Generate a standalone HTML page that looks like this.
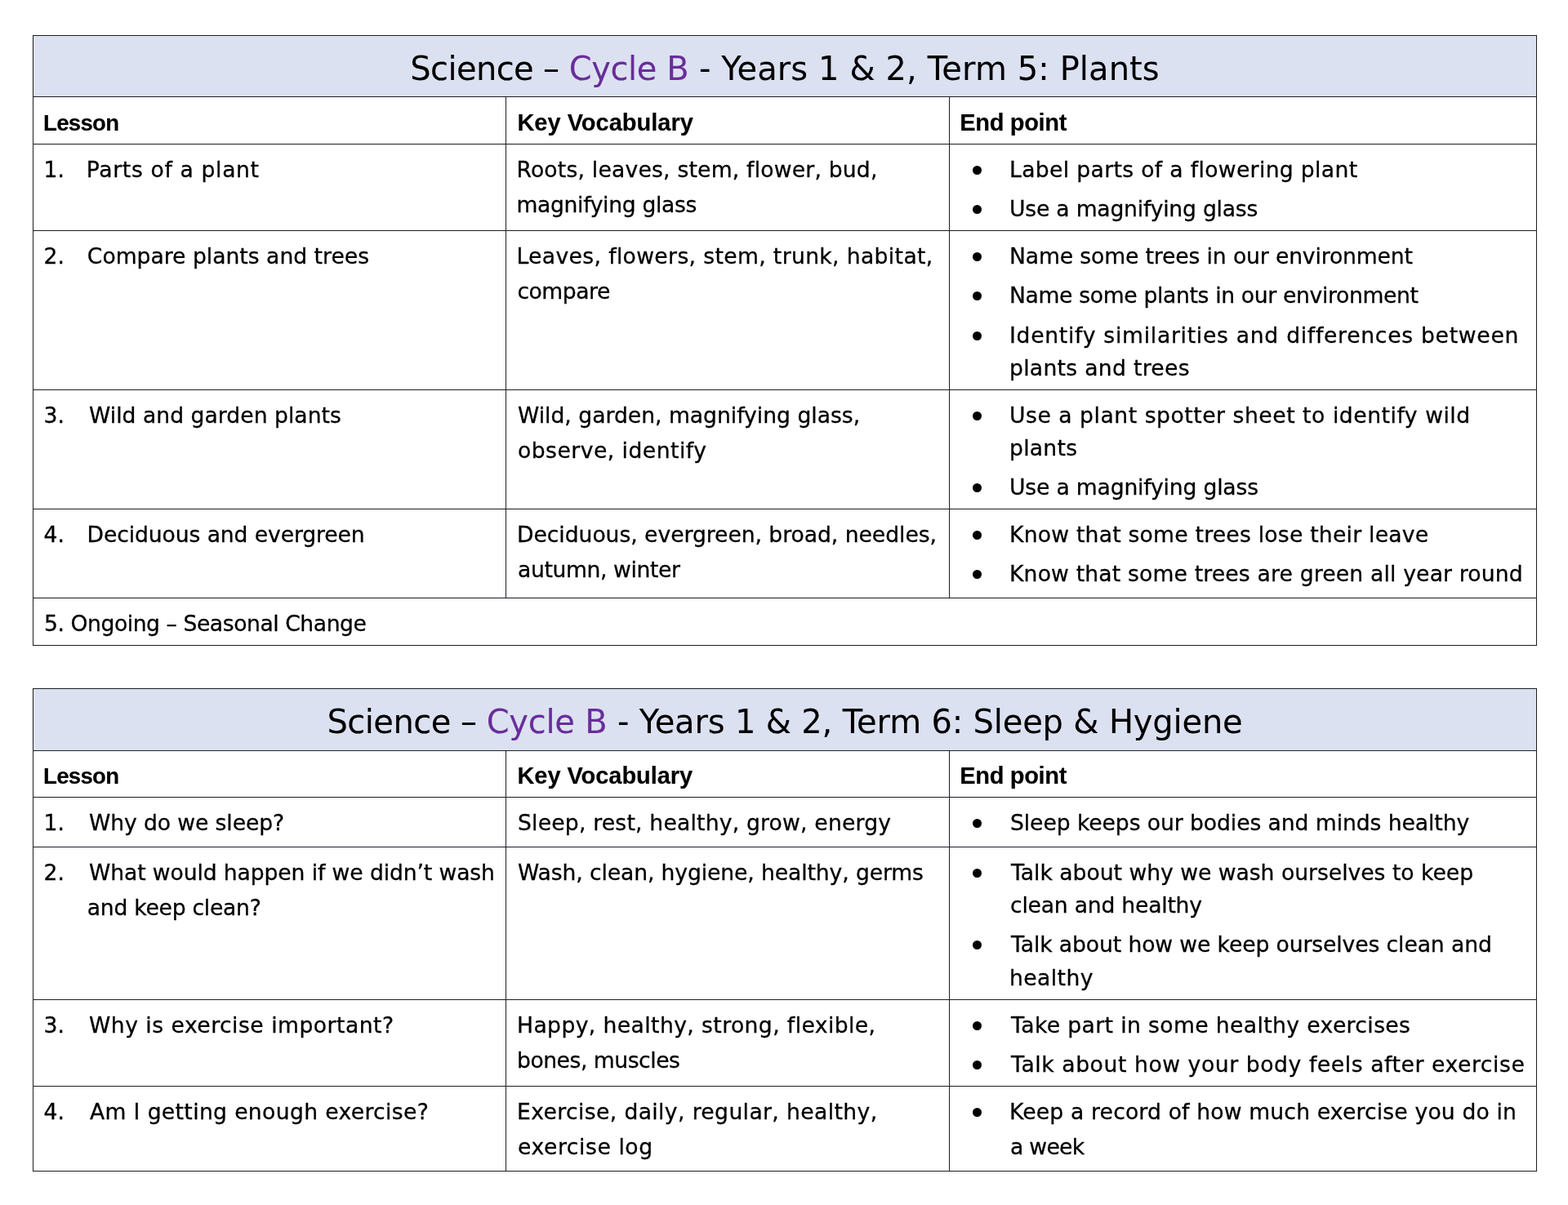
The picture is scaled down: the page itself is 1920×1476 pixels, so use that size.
<!DOCTYPE html>
<html lang="en"><head><meta charset="utf-8"><title>Science – Cycle B</title>
<style>
html,body{margin:0;padding:0;background:#fff;}
body{width:1920px;height:1476px;position:relative;overflow:hidden;
 font-family:"DejaVu Sans","Liberation Sans",sans-serif;font-size:26.6px;color:#000;-webkit-text-stroke:0.3px #000;}
table{position:absolute;left:40px;border-collapse:collapse;table-layout:fixed;width:1842px;}
#t1{top:43px;} #t2{top:843px;}
td,th{border:1px solid #1c1e24;padding:0;vertical-align:top;text-align:left;font-weight:normal;white-space:nowrap;overflow:visible;}
th.title{-webkit-text-stroke-width:0.05px;background:#dce1f1;height:75px;text-align:center;font-size:40px;line-height:75px;padding:0;}
th.title .pad{display:block;position:relative;top:3px;}
.purple{color:#692d9a;-webkit-text-stroke-color:#692d9a;}
th.h{font-weight:bold;height:58px;padding:9px 0 0 14px;line-height:43.4px;box-sizing:border-box;font-family:"Liberation Sans","DejaVu Sans",sans-serif;font-size:29px;-webkit-text-stroke:0.15px #000;}
td.c{padding:8.9px 0 0 14px;line-height:43.4px;box-sizing:border-box;}
td.c .ln{display:block;height:43.4px;}
td.c .num{display:inline-block;width:55px;margin-left:-1.5px;}
td.c .ind{display:inline-block;width:53.5px;}
td.b{padding:11.0px 0 0 0;box-sizing:border-box;}
ul{list-style:none;margin:0;padding:0;}
li{position:relative;padding-left:75px;line-height:40.2px;margin:0 0 8.1px 0;}
li:last-child{margin-bottom:0;}
li.w{line-height:43px;margin-top:-1.6px;}
#t2 th.h{height:57px;}
#t1 th.title{height:74px;line-height:74px;}
#t1 th.title .pad{top:3px;}
#t1 th.h{padding-top:10px;}
li:before{content:"";position:absolute;left:28px;top:15px;width:11px;height:11px;border-radius:50%;background:#000;}
li.w:before{top:16.4px;}
li .ln{display:block;height:40.2px;}
li.w .ln{height:43px;}
</style></head>
<body>
<table id="t1"><colgroup><col style="width:579px"><col style="width:543px"><col style="width:719px"></colgroup><thead><tr><th class="title" colspan="3"><span class="pad"><span style="letter-spacing:-0.611px">Science – </span><span class="purple" style="letter-spacing:-0.414px">Cycle B</span><span style="letter-spacing:0.086px"> - Years 1 &amp; 2, Term 5: Plants</span></span></th></tr><tr><th class="h"><span style="font-size:27.6px;margin-left:-2.0px;letter-spacing:-0.722px">Lesson</span></th><th class="h"><span style="margin-left:-0.6px;letter-spacing:-0.004px">Key Vocabulary</span></th><th class="h"><span style="margin-left:-1.7px;letter-spacing:-0.336px">End point</span></th></tr></thead><tbody><tr style="height:106px"><td class="c"><span class="ln"><span class="num">1.</span><span style="margin-left:-2.7px;letter-spacing:0.647px">Parts of a plant</span></span></td><td class="c"><span class="ln"><span style="margin-left:-1.6px;letter-spacing:0.205px">Roots, leaves, stem, flower, bud,</span></span><span class="ln"><span style="margin-left:-1.6px;letter-spacing:-0.321px">magnifying glass</span></span></td><td class="b"><ul><li><span class="ln"><span style="margin-left:-2.0px;letter-spacing:0.346px">Label parts of a flowering plant</span></span></li><li><span class="ln"><span style="margin-left:-2.0px;letter-spacing:-0.206px">Use a magnifying glass</span></span></li></ul></td></tr><tr style="height:195px"><td class="c"><span class="ln"><span class="num">2.</span><span style="margin-left:-1.7px;letter-spacing:0.004px">Compare plants and trees</span></span></td><td class="c"><span class="ln"><span style="margin-left:-1.6px;letter-spacing:0.360px">Leaves, flowers, stem, trunk, habitat,</span></span><span class="ln"><span style="margin-left:-0.6px;letter-spacing:-0.466px">compare</span></span></td><td class="b"><ul><li><span class="ln"><span style="margin-left:-2.0px;letter-spacing:-0.125px">Name some trees in our environment</span></span></li><li><span class="ln"><span style="margin-left:-2.0px;letter-spacing:-0.338px">Name some plants in our environment</span></span></li><li><span class="ln"><span style="margin-left:-2.0px;letter-spacing:0.722px">Identify similarities and differences between</span></span><span class="ln"><span style="margin-left:-2.0px;letter-spacing:0.299px">plants and trees</span></span></li></ul></td></tr><tr style="height:146px"><td class="c"><span class="ln"><span class="num">3.</span><span style="margin-left:0.5px;letter-spacing:0.033px">Wild and garden plants</span></span></td><td class="c"><span class="ln"><span style="letter-spacing:-0.003px">Wild, garden, magnifying glass,</span></span><span class="ln"><span style="letter-spacing:0.478px">observe, identify</span></span></td><td class="b"><ul><li><span class="ln"><span style="margin-left:-2.0px;letter-spacing:0.539px">Use a plant spotter sheet to identify wild</span></span><span class="ln"><span style="margin-left:-2.0px;letter-spacing:0.259px">plants</span></span></li><li><span class="ln"><span style="margin-left:-2.0px;letter-spacing:-0.176px">Use a magnifying glass</span></span></li></ul></td></tr><tr style="height:109px"><td class="c"><span class="ln"><span class="num">4.</span><span style="margin-left:-1.9px;letter-spacing:-0.098px">Deciduous and evergreen</span></span></td><td class="c"><span class="ln"><span style="margin-left:-1.0px;letter-spacing:-0.034px">Deciduous, evergreen, broad, needles,</span></span><span class="ln"><span style="letter-spacing:-0.379px">autumn, winter</span></span></td><td class="b"><ul><li><span class="ln"><span style="margin-left:-2.0px;letter-spacing:0.231px">Know that some trees lose their leave</span></span></li><li><span class="ln"><span style="margin-left:-2.0px;letter-spacing:0.173px">Know that some trees are green all year round</span></span></li></ul></td></tr><tr style="height:58px"><td class="c" colspan="3"><span class="ln"><span style="margin-left:-1.0px;letter-spacing:-0.433px">5. Ongoing – Seasonal Change</span></span></td></tr></tbody></table>
<table id="t2"><colgroup><col style="width:579px"><col style="width:543px"><col style="width:719px"></colgroup><thead><tr><th class="title" colspan="3"><span class="pad"><span style="letter-spacing:-0.534px">Science – </span><span class="purple" style="letter-spacing:-0.246px">Cycle B</span><span style="letter-spacing:-0.174px"> - Years 1 &amp; 2, Term 6: Sleep &amp; Hygiene</span></span></th></tr><tr><th class="h"><span style="font-size:27.6px;margin-left:-2.0px;letter-spacing:-0.722px">Lesson</span></th><th class="h"><span style="margin-left:-0.6px;letter-spacing:-0.051px">Key Vocabulary</span></th><th class="h"><span style="margin-left:-1.7px;letter-spacing:-0.336px">End point</span></th></tr></thead><tbody><tr style="height:61px"><td class="c"><span class="ln"><span class="num">1.</span><span style="margin-left:0.5px;letter-spacing:-0.092px">Why do we sleep?</span></span></td><td class="c"><span class="ln"><span style="letter-spacing:0.203px">Sleep, rest, healthy, grow, energy</span></span></td><td class="b"><ul><li><span class="ln"><span style="margin-left:-1.0px;letter-spacing:-0.073px">Sleep keeps our bodies and minds healthy</span></span></li></ul></td></tr><tr style="height:187px"><td class="c"><span class="ln"><span class="num">2.</span><span style="margin-left:0.5px;letter-spacing:-0.100px">What would happen if we didn’t wash</span></span><span class="ln"><span class="ind"></span><span style="margin-left:-1.7px;letter-spacing:-0.260px">and keep clean?</span></span></td><td class="c"><span class="ln"><span style="letter-spacing:-0.103px">Wash, clean, hygiene, healthy, germs</span></span></td><td class="b"><ul><li><span class="ln"><span style="letter-spacing:-0.010px">Talk about why we wash ourselves to keep</span></span><span class="ln"><span style="margin-left:-1.0px;letter-spacing:-0.212px">clean and healthy</span></span></li><li><span class="ln"><span style="letter-spacing:-0.104px">Talk about how we keep ourselves clean and</span></span><span class="ln"><span style="margin-left:-2.0px;letter-spacing:0.428px">healthy</span></span></li></ul></td></tr><tr style="height:106px"><td class="c"><span class="ln"><span class="num">3.</span><span style="margin-left:0.5px;letter-spacing:0.494px">Why is exercise important?</span></span></td><td class="c"><span class="ln"><span style="margin-left:-1.0px;letter-spacing:0.408px">Happy, healthy, strong, flexible,</span></span><span class="ln"><span style="margin-left:-1.0px;letter-spacing:-0.468px">bones, muscles</span></span></td><td class="b"><ul><li><span class="ln"><span style="letter-spacing:0.384px">Take part in some healthy exercises</span></span></li><li><span class="ln"><span style="letter-spacing:0.581px">Talk about how your body feels after exercise</span></span></li></ul></td></tr><tr style="height:104px"><td class="c"><span class="ln"><span class="num">4.</span><span style="margin-left:1.5px;letter-spacing:0.356px">Am I getting enough exercise?</span></span></td><td class="c"><span class="ln"><span style="margin-left:-1.0px;letter-spacing:0.381px">Exercise, daily, regular, healthy,</span></span><span class="ln"><span style="letter-spacing:0.577px">exercise log</span></span></td><td class="b"><ul><li class="w"><span class="ln"><span style="margin-left:-2.0px;letter-spacing:0.167px">Keep a record of how much exercise you do in</span></span><span class="ln"><span style="margin-left:-1.0px;letter-spacing:-0.706px">a week</span></span></li></ul></td></tr></tbody></table>
</body></html>
